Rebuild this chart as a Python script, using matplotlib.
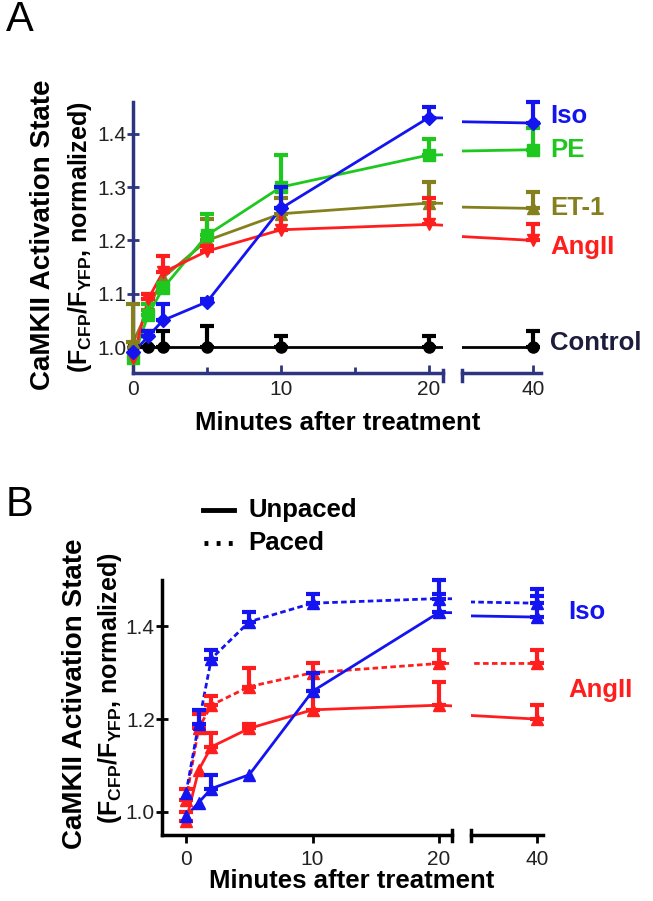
import matplotlib

matplotlib.use("Agg")

import matplotlib.pyplot as plt
import numpy as np
from matplotlib.lines import Line2D

plt.rcParams["font.family"] = ["Liberation Sans", "DejaVu Sans"]
plt.rcParams["mathtext.fontset"] = "custom"
plt.rcParams["mathtext.rm"] = "Liberation Sans:bold"
plt.rcParams["mathtext.it"] = "Liberation Sans:bold"
plt.rcParams["mathtext.bf"] = "Liberation Sans:bold"

W, H = 653, 901

# ---- data ----
minutes = [0, 1, 2, 5, 10, 20, 40]

# panel A: upper error bar lengths (SEM, drawn upward only)
iso_a = [0.99, 1.02, 1.05, 1.085, 1.26, 1.43, 1.42]
iso_a_err = [0.0, 0.01, 0.03, 0.005, 0.04, 0.02, 0.04]
pe_a = [0.98, 1.06, 1.11, 1.21, 1.30, 1.36, 1.37]
pe_a_err = [0.0, 0.02, 0.01, 0.04, 0.06, 0.03, 0.04]
et1_a = [1.01, 1.07, 1.13, 1.20, 1.25, 1.27, 1.26]
et1_a_err = [0.07, 0.03, 0.0, 0.04, 0.03, 0.04, 0.03]
ang_a = [0.98, 1.09, 1.14, 1.18, 1.22, 1.23, 1.20]
ang_a_err = [0.0, 0.01, 0.03, 0.01, 0.04, 0.05, 0.03]
ctrl_a = [1.00, 1.00, 1.00, 1.00, 1.00, 1.00, 1.00]
ctrl_a_err = [0.0, 0.03, 0.03, 0.04, 0.02, 0.02, 0.03]

# panel B
iso_unpaced = [0.99, 1.02, 1.05, 1.08, 1.26, 1.43, 1.42]
iso_unpaced_err = [0.0, 0.0, 0.03, 0.0, 0.04, 0.07, 0.06]
iso_paced = [1.04, 1.19, 1.33, 1.41, 1.45, 1.46, 1.45]
iso_paced_err = [0.0, 0.03, 0.02, 0.02, 0.02, 0.01, 0.015]
ang_unpaced = [0.98, 1.09, 1.14, 1.18, 1.22, 1.23, 1.20]
ang_unpaced_err = [0.02, 0.0, 0.03, 0.01, 0.04, 0.05, 0.03]
ang_paced = [1.025, 1.18, 1.23, 1.27, 1.30, 1.32, 1.32]
ang_paced_err = [0.025, 0.03, 0.02, 0.04, 0.02, 0.03, 0.03]

BLUE = "#1414f0"
GREEN = "#1ec81e"
OLIVE = "#85801e"
RED = "#ff1e1e"
NAVY = "#2e3580"


def px_box(left, top, right, bottom):
    return [left / W, 1 - bottom / H, (right - left) / W, (bottom - top) / H]


def draw_series(ax_l, ax_r, x, y, err, color, marker, ls="-", ms=8):
    x = np.asarray(x, float)
    y = np.asarray(y, float)
    err = np.asarray(err, float)
    for ax, sel in ((ax_l, x <= 21), (ax_r, x >= 30)):
        ax.plot(x, y, color=color, lw=2.0, ls=ls, zorder=2)
        pts = ax.plot(x[sel], y[sel], ls="none", marker=marker, color=color,
                      ms=ms, zorder=3)
        for p in pts:
            p.set_clip_on(False)
        has = sel & (err > 0)
        if has.any():
            cont = ax.errorbar(x[has], y[has],
                               yerr=[np.zeros(has.sum()), err[has]],
                               fmt="none", ecolor=color, elinewidth=3,
                               capsize=5, capthick=3, zorder=3)
            for art in cont.get_children():
                art.set_clip_on(False)


def style_axes(ax_l, ax_r, color, tick_dir, ylim, yticks, xlim_l, xlim_r,
               brk):
    for ax in (ax_l, ax_r):
        for s in ("top", "right"):
            ax.spines[s].set_visible(False)
        ax.spines["bottom"].set_color(color)
        ax.spines["bottom"].set_linewidth(2.5)
        ax.set_ylim(*ylim)
        ax.patch.set_alpha(0)
        ax.tick_params(axis="x", direction=tick_dir, length=6, width=2,
                       color=color, labelsize=15, labelcolor="#222222", pad=5)
    ax_l.spines["left"].set_color(color)
    ax_l.spines["left"].set_linewidth(2.5)
    ax_r.spines["left"].set_visible(False)
    ax_l.set_yticks(yticks)
    ax_l.set_yticklabels([f"{v:.1f}" for v in yticks])
    ax_l.tick_params(axis="y", direction="inout", length=8, width=2,
                     color=color, labelsize=15, labelcolor="#222222", pad=1)
    ax_r.set_yticks([])
    ax_l.set_xlim(*xlim_l)
    ax_r.set_xlim(*xlim_r)
    ax_l.set_xticks([0, 10, 20])
    ax_r.set_xticks([40])
    for ax, xpos in ((ax_l, 1.0), (ax_r, 0.0)):
        ax.plot([xpos, xpos], brk, transform=ax.transAxes, color=color,
                lw=2.5, clip_on=False)


fig = plt.figure(figsize=(W / 100, H / 100), dpi=100)

# ---------------- panel A ----------------
axA = fig.add_axes(px_box(133.3, 101.7, 443.3, 373.3))
axA2 = fig.add_axes(px_box(461.7, 101.7, 540.7, 373.3))
style_axes(axA, axA2, NAVY, "in", (0.951, 1.46), [1.0, 1.1, 1.2, 1.3, 1.4],
           (0, 21), (35.15, 40.5), (-0.03, 0.012))
axA.set_xticks([5, 15], minor=True)
axA.tick_params(axis="x", which="minor", direction="in", length=4, width=2,
                color=NAVY)

draw_series(axA, axA2, minutes, ctrl_a, ctrl_a_err, "black", "o")
draw_series(axA, axA2, minutes, et1_a, et1_a_err, OLIVE, "^")
draw_series(axA, axA2, minutes, pe_a, pe_a_err, GREEN, "s")
draw_series(axA, axA2, minutes, ang_a, ang_a_err, RED, "v")
draw_series(axA, axA2, minutes, iso_a, iso_a_err, BLUE, "D", ms=7)

labels_a = [("Iso", 1.433, BLUE), ("PE", 1.37, GREEN), ("ET-1", 1.26, OLIVE),
            ("AngII", 1.188, RED), ("Control", 1.008, "#1c1c3c")]
for txt, yv, col in labels_a:
    axA2.text(1.12, yv, txt, transform=axA2.get_yaxis_transform(),
              color=col, fontsize=18.5, fontweight="bold", va="center",
              ha="left")

fig.text(338 / W, 1 - 423 / H, "Minutes after treatment", ha="center",
         va="center", fontsize=18.5, fontweight="bold")
fig.text(43 / W, 1 - 235 / H, "CaMKII Activation State", rotation=90,
         ha="center", va="center", fontsize=20, fontweight="bold")
fig.text(80 / W, 1 - 237 / H,
         r"(F$_{\mathrm{CFP}}$/F$_{\mathrm{YFP}}$, normalized)", rotation=90,
         ha="center", va="center", fontsize=18, fontweight="bold")
fig.text(6 / W, 1 - 20 / H, "A", fontsize=30, ha="left", va="center")

# ---------------- panel B ----------------
axB = fig.add_axes(px_box(161.7, 580, 451.7, 835))
axB2 = fig.add_axes(px_box(470.7, 580, 543.3, 835))
style_axes(axB, axB2, "black", "out", (0.95, 1.50), [1.0, 1.2, 1.4],
           (-1.92, 21), (34.79, 40.52), (-0.025, 0.02))

dash = (0, (2, 1.2))
draw_series(axB, axB2, minutes, ang_unpaced, ang_unpaced_err, RED, "^")
draw_series(axB, axB2, minutes, ang_paced, ang_paced_err, RED, "^", ls=dash)
draw_series(axB, axB2, minutes, iso_unpaced, iso_unpaced_err, BLUE, "^")
draw_series(axB, axB2, minutes, iso_paced, iso_paced_err, BLUE, "^", ls=dash)

axB2.text(1.35, 1.43, "Iso", transform=axB2.get_yaxis_transform(),
          color=BLUE, fontsize=18.5, fontweight="bold", va="center")
axB2.text(1.35, 1.262, "AngII", transform=axB2.get_yaxis_transform(),
          color=RED, fontsize=18.5, fontweight="bold", va="center")

# legend for line styles
fig.add_artist(Line2D([203 / W, 234 / W], [1 - 510 / H] * 2, color="black",
                      lw=3.5))
fig.add_artist(Line2D([204 / W, 234 / W], [1 - 543 / H] * 2, color="black",
                      lw=3.5, ls=(0, (0.8, 1.7))))
fig.text(248 / W, 1 - 510 / H, "Unpaced", fontsize=18.5, fontweight="bold",
         va="center")
fig.text(248 / W, 1 - 543 / H, "Paced", fontsize=18.5, fontweight="bold",
         va="center")

fig.text(352 / W, 1 - 881 / H, "Minutes after treatment", ha="center",
         va="center", fontsize=18.5, fontweight="bold")
fig.text(75 / W, 1 - 694 / H, "CaMKII Activation State", rotation=90,
         ha="center", va="center", fontsize=20, fontweight="bold")
fig.text(110 / W, 1 - 688 / H,
         r"(F$_{\mathrm{CFP}}$/F$_{\mathrm{YFP}}$, normalized)", rotation=90,
         ha="center", va="center", fontsize=18, fontweight="bold")
fig.text(6 / W, 1 - 505 / H, "B", fontsize=30, ha="left", va="center")

fig.savefig("out.png", dpi=100)
plt.close(fig)
